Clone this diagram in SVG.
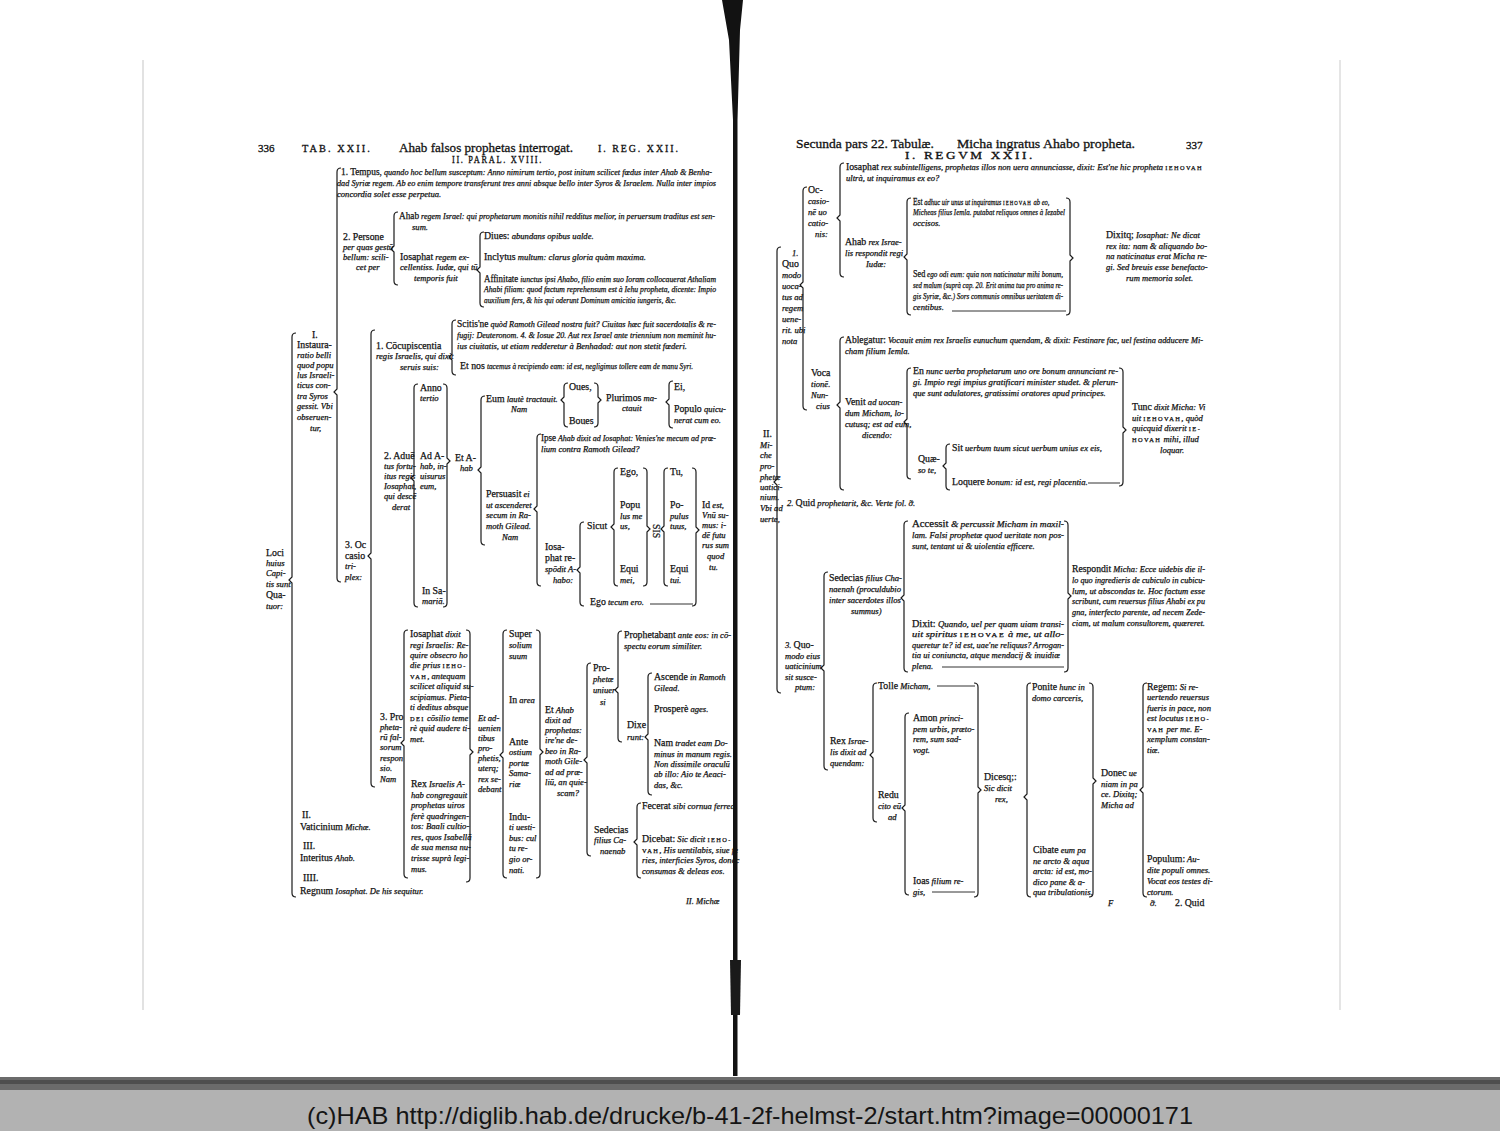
<svg xmlns="http://www.w3.org/2000/svg" width="1500" height="1131" viewBox="0 0 1500 1131">
<style>
text{font-family:"Liberation Serif","DejaVu Serif",serif;fill:#121212}
.t{font-style:italic;font-size:8.6px;stroke:#121212;stroke-width:0.25}
.r{font-style:normal;font-size:9.8px}
.sc{font-style:normal;font-size:6.4px;letter-spacing:1.4px}
.hn{font-size:11px;stroke:#121212;stroke-width:0.3}
.hc{font-size:10px;letter-spacing:2px;stroke:#121212;stroke-width:0.3}
.ht{font-size:13px;stroke:#121212;stroke-width:0.3}
.b{fill:none;stroke:#1c1c1c;stroke-width:1.2}
.d{fill:none;stroke:#1c1c1c;stroke-width:0.9}
.foot{font-family:"Liberation Sans",Arial,sans-serif;font-size:24px;fill:#151515}
</style>
<rect width="1500" height="1131" fill="#ffffff"/>
<g id="page">
<line x1="143" y1="60" x2="143" y2="1010" stroke="#d8d8d8" stroke-width="1.5"/>
<line x1="1340" y1="60" x2="1340" y2="1010" stroke="#dcdcdc" stroke-width="1.5"/>
<path d="M722,0 L743,0 L740,30 L737.5,120 L737.5,1076 L733,1076 L733,120 L729,40 Z" fill="#121212"/>
<path d="M730,960 L741,960 L740,1015 L731,1015 Z" fill="#1a1a1a"/>
<rect x="0" y="1077" width="1500" height="13" fill="#6b6b6b"/>
<rect x="0" y="1080" width="1500" height="4" fill="#3a3a3a" opacity="0.6"/>
<rect x="0" y="1090" width="1500" height="41" fill="#b2b2b2"/>
<text class="foot" x="750" y="1124" text-anchor="middle" textLength="886" lengthAdjust="spacingAndGlyphs">(c)HAB http://diglib.hab.de/drucke/b-41-2f-helmst-2/start.htm?image=00000171</text>
</g>

<g id="connectors">
<path class="b" d="M341,168 Q337,168 337,172 V389 L334,392 L337,395 V578 Q337,582 341,582"/>
<path class="b" d="M296,333 Q292,333 292,337 V577 L289,580 L292,583 V893 Q292,897 296,897"/>
<path class="b" d="M398,212 Q394,212 394,216 V246 L391,249 L394,252 V281 Q394,285 398,285"/>
<path class="b" d="M484,232 Q480,232 480,236 V267 L477,270 L480,273 V303 Q480,307 484,307"/>
<path class="b" d="M375,330 Q371,330 371,334 V553 L368,556 L371,559 V783 Q371,787 375,787"/>
<path class="b" d="M456,320 Q452,320 452,324 V354 L449,357 L452,360 V371 Q452,375 456,375"/>
<path class="b" d="M418,384 Q414,384 414,388 V475 L411,478 L414,481 V603 Q414,607 418,607"/>
<path class="b" d="M443,384 Q447,384 447,388 V458 L450,461 L447,464 V603 Q447,607 443,607"/>
<path class="b" d="M485,396 Q481,396 481,400 V467 L478,470 L481,473 V541 Q481,545 485,545"/>
<path class="b" d="M568,383 Q564,383 564,387 V397 L561,400 L564,403 V423 Q564,427 568,427"/>
<path class="b" d="M594,383 Q598,383 598,387 V397 L601,400 L598,403 V423 Q598,427 594,427"/>
<path class="b" d="M673,381 Q669,381 669,385 V399 L666,402 L669,405 V424 Q669,428 673,428"/>
<path class="b" d="M541,434 Q537,434 537,438 V506 L534,509 L537,512 V582 Q537,586 541,586"/>
<path class="b" d="M584,522 Q580,522 580,526 V567 L577,570 L580,573 V602 Q580,606 584,606"/>
<path class="b" d="M618,468 Q614,468 614,472 V524 L611,527 L614,530 V582 Q614,586 618,586"/>
<path class="b" d="M643,468 Q647,468 647,472 V526 L650,529 L647,532 V582 Q647,586 643,586"/>
<path class="b" d="M668,468 Q664,468 664,472 V526 L661,529 L664,532 V582 Q664,586 668,586"/>
<path class="b" d="M692,468 Q696,468 696,472 V527 L699,530 L696,533 V602 Q696,606 692,606"/>
<path class="d" d="M650,604 H693"/>
<path class="b" d="M408,630 Q404,630 404,634 V740 L401,743 L404,746 V874 Q404,878 408,878"/>
<path class="b" d="M466,630 Q470,630 470,634 V749 L473,752 L470,755 V878 Q470,882 466,882"/>
<path class="b" d="M507,630 Q503,630 503,634 V752 L500,755 L503,758 V874 Q503,878 507,878"/>
<path class="b" d="M536,630 Q540,630 540,634 V749 L543,752 L540,755 V874 Q540,878 536,878"/>
<path class="b" d="M591,663 Q587,663 587,667 V757 L584,760 L587,763 V852 Q587,856 591,856"/>
<path class="b" d="M622,631 Q618,631 618,635 V687 L615,690 L618,693 V738 Q618,742 622,742"/>
<path class="b" d="M652,673 Q648,673 648,677 V734 L645,737 L648,740 V791 Q648,795 652,795"/>
<path class="b" d="M641,803 Q637,803 637,807 V839 L634,842 L637,845 V874 Q637,878 641,878"/>

<path class="b" d="M781,247 Q777,247 777,251 V479 L774,482 L777,485 V689 Q777,693 781,693"/>
<path class="b" d="M807,187 Q803,187 803,191 V282 L800,285 L803,288 V406 Q803,410 807,410"/>
<path class="b" d="M844,163 Q840,163 840,167 V215 L837,218 L840,221 V273 Q840,277 844,277"/>
<path class="b" d="M911,198 Q907,198 907,202 V254 L904,257 L907,260 V311 Q907,315 911,315"/>
<path class="b" d="M1066,198 Q1070,198 1070,202 V255 L1073,258 L1070,261 V311 Q1070,315 1066,315"/>
<path class="d" d="M952,311 H1066"/>
<path class="b" d="M844,337 Q840,337 840,341 V402 L837,405 L840,408 V486 Q840,490 844,490"/>
<path class="b" d="M911,368 Q907,368 907,372 V419 L904,422 L907,425 V475 Q907,479 911,479"/>
<path class="b" d="M1119,368 Q1123,368 1123,372 V427 L1126,430 L1123,433 V482 Q1123,486 1119,486"/>
<path class="d" d="M1088,483 H1120"/>
<path class="b" d="M950,444 Q946,444 946,448 V463 L943,466 L946,469 V486 Q946,490 950,490"/>
<path class="b" d="M828,572 Q824,572 824,576 V665 L821,668 L824,671 V766 Q824,770 828,770"/>
<path class="b" d="M908,521 Q904,521 904,525 V595 L901,598 L904,601 V668 Q904,672 908,672"/>
<path class="b" d="M1064,521 Q1068,521 1068,525 V593 L1071,596 L1068,599 V668 Q1068,672 1064,672"/>
<path class="d" d="M942,667 H1064"/>
<path class="b" d="M877,683 Q873,683 873,687 V752 L870,755 L873,758 V818 Q873,822 877,822"/>
<path class="d" d="M937,686 H975"/>
<path class="b" d="M909,713 Q905,713 905,717 V805 L902,808 L905,811 V891 Q905,895 909,895"/>
<path class="d" d="M932,892 H975"/>
<path class="b" d="M974,683 Q978,683 978,687 V787 L981,790 L978,793 V893 Q978,897 974,897"/>
<path class="b" d="M1031,683 Q1027,683 1027,687 V794 L1024,797 L1027,800 V893 Q1027,897 1031,897"/>
<path class="b" d="M1089,683 Q1093,683 1093,687 V778 L1096,781 L1093,784 V893 Q1093,897 1089,897"/>
<path class="b" d="M1147,683 Q1143,683 1143,687 V787 L1140,790 L1143,793 V893 Q1143,897 1147,897"/>
</g>

<g id="hdrL">
<text class="hn" x="258" y="152">336</text>
<text class="hc" x="302" y="152" textLength="70" lengthAdjust="spacingAndGlyphs">TAB. XXII.</text>
<text class="ht" x="399" y="152" textLength="174" lengthAdjust="spacingAndGlyphs">Ahab falsos prophetas interrogat.</text>
<text class="hc" x="598" y="152" textLength="82" lengthAdjust="spacingAndGlyphs">I. REG. XXII.</text>
<text class="hc" x="452" y="163" font-size="9" textLength="91" lengthAdjust="spacingAndGlyphs">II. PARAL. XVIII.</text>
</g>

<g id="n-tempus">
<text class="t" x="341" y="175" textLength="371" lengthAdjust="spacingAndGlyphs"><tspan class="r">1. Tempus,</tspan> quando hoc bellum susceptum: Anno nimirum tertio, post initum scilicet fœdus inter Ahab &amp; Benha-</text>
<text class="t" x="337" y="186" textLength="379" lengthAdjust="spacingAndGlyphs">dad Syriæ regem. Ab eo enim tempore transferunt tres anni absque bello inter Syros &amp; Israelem.    Nulla inter impios</text>
<text class="t" x="337" y="197">concordia solet esse perpetua.</text>
</g>

<g id="n-persone">
<text class="t"><tspan class="r" x="343" y="240">2. Persone</tspan><tspan x="343" y="250">per quas gestū</tspan><tspan x="343" y="260">bellum: scili-</tspan><tspan x="356" y="270">cet per</tspan></text>
</g>
<g id="n-ahab1">
<text class="t" x="399" y="219" textLength="316" lengthAdjust="spacingAndGlyphs"><tspan class="r">Ahab</tspan> regem Israel: qui prophetarum monitis nihil redditus melior, in peruersum traditus est sen-</text>
<text class="t" x="412" y="230">sum.</text>
</g>
<g id="n-ios1">
<text class="t"><tspan x="400" y="260"><tspan class="r">Iosaphat</tspan> regem ex-</tspan><tspan x="400" y="270">cellentiss. Iudæ, qui tū</tspan><tspan x="414" y="281">temporis fuit</tspan></text>
</g>
<g id="n-diues"><text class="t" x="484" y="239"><tspan class="r">Diues:</tspan> abundans opibus ualde.</text></g>
<g id="n-inclytus"><text class="t" x="484" y="260"><tspan class="r">Inclytus</tspan> multum: clarus gloria quàm maxima.</text></g>
<g id="n-affin">
<text class="t" x="484" y="282" textLength="232" lengthAdjust="spacingAndGlyphs"><tspan class="r">Affinitate</tspan> iunctus ipsi Ahabo, filio enim suo Ioram collocauerat Athaliam</text>
<text class="t" x="484" y="292" textLength="232" lengthAdjust="spacingAndGlyphs">Ahabi filiam: quod factum reprehensum est à Iehu propheta, dicente: Impio</text>
<text class="t" x="484" y="303" textLength="192" lengthAdjust="spacingAndGlyphs">auxilium fers, &amp; his qui oderunt Dominum amicitia iungeris, &amp;c.</text>
</g>

<g id="n-I">
<text class="t"><tspan class="r" x="312" y="338">I.</tspan><tspan class="r" x="297" y="348">Instaura-</tspan><tspan x="297" y="358">ratio belli</tspan><tspan x="297" y="368">quod popu</tspan><tspan x="297" y="378">lus Israeli-</tspan><tspan x="297" y="388">ticus con-</tspan><tspan x="297" y="399">tra Syros</tspan><tspan x="297" y="409">gessit. Vbi</tspan><tspan x="297" y="420">obseruen-</tspan><tspan x="310" y="431">tur,</tspan></text>
</g>
<g id="n-loci">
<text class="t"><tspan class="r" x="266" y="556">Loci</tspan><tspan x="266" y="566">huius</tspan><tspan x="266" y="576">Capi-</tspan><tspan x="266" y="587">tis sunt</tspan><tspan class="r" x="266" y="598">Qua-</tspan><tspan x="266" y="609">tuor:</tspan></text>
</g>
<g id="n-occasio">
<text class="t"><tspan class="r" x="345" y="548">3. Oc</tspan><tspan class="r" x="345" y="559">casio</tspan><tspan x="345" y="569">tri-</tspan><tspan x="345" y="580">plex:</tspan></text>
</g>

<g id="n-concup">
<text class="t"><tspan x="376" y="349"><tspan class="r">1. Cōcupiscentia</tspan></tspan><tspan x="376" y="359">regis Israelis, qui dixit</tspan><tspan x="400" y="370">seruis suis:</tspan></text>
</g>
<g id="n-scitis">
<text class="t" x="457" y="327" textLength="259" lengthAdjust="spacingAndGlyphs"><tspan class="r">Scitis'ne</tspan> quòd Ramoth Gilead nostra fuit?   Ciuitas hæc fuit sacerdotalis &amp; re-</text>
<text class="t" x="457" y="338" textLength="259" lengthAdjust="spacingAndGlyphs">fugij: Deuteronom. 4. &amp; Iosue 20.   Aut rex Israel ante triennium non meminit hu-</text>
<text class="t" x="457" y="349">ius ciuitatis, ut etiam redderetur à Benhadad: aut non stetit fœderi.</text>
</g>
<g id="n-etnos">
<text class="t r" x="460" y="369">Et nos</text>
<text class="t" x="487" y="369" textLength="206" lengthAdjust="spacingAndGlyphs">tacemus à recipiendo eam: id est, negligimus tollere eam de manu Syri.</text>
</g>

<g id="n-aduentus">
<text class="t"><tspan class="r" x="384" y="459">2. Aduē</tspan><tspan x="384" y="469">tus fortu-</tspan><tspan x="384" y="479">itus regis</tspan><tspan x="384" y="489">Iosaphat,</tspan><tspan x="384" y="499">qui descē</tspan><tspan x="392" y="510">derat</tspan></text>
</g>
<g id="n-anno">
<text class="t"><tspan class="r" x="420" y="391">Anno</tspan><tspan x="420" y="401">tertio</tspan></text>
<text class="t"><tspan class="r" x="420" y="459">Ad A-</tspan><tspan x="420" y="469">hab, in-</tspan><tspan x="420" y="479">uisurus</tspan><tspan x="420" y="489">eum,</tspan></text>
<text class="t"><tspan class="r" x="422" y="594">In Sa-</tspan><tspan x="422" y="604">mariā.</tspan></text>
</g>
<g id="n-etahab"><text class="t"><tspan class="r" x="455" y="461">Et A-</tspan><tspan x="460" y="471">hab</tspan></text></g>
<g id="n-eum"><text class="t"><tspan x="486" y="402"><tspan class="r">Eum</tspan> lautè tractauit.</tspan><tspan x="511" y="412">Nam</tspan></text></g>
<g id="n-oues"><text class="t"><tspan class="r" x="569" y="390">Oues,</tspan><tspan class="r" x="569" y="424">Boues</tspan></text></g>
<g id="n-plurimos"><text class="t"><tspan x="606" y="401"><tspan class="r">Plurimos</tspan> ma-</tspan><tspan x="622" y="411">ctauit</tspan></text></g>
<g id="n-ei"><text class="t"><tspan class="r" x="674" y="390">Ei,</tspan><tspan x="674" y="412"><tspan class="r">Populo</tspan> quicu-</tspan><tspan x="674" y="423">nerat cum eo.</tspan></text></g>
<g id="n-persuasit"><text class="t"><tspan x="486" y="497"><tspan class="r">Persuasit</tspan> ei</tspan><tspan x="486" y="508">ut ascenderet</tspan><tspan x="486" y="518">secum in Ra-</tspan><tspan x="486" y="529">moth Gilead.</tspan><tspan x="502" y="540">Nam</tspan></text></g>
<g id="n-ipse">
<text class="t" x="541" y="441" textLength="175" lengthAdjust="spacingAndGlyphs"><tspan class="r">Ipse</tspan> Ahab dixit ad Iosaphat: Venies'ne mecum ad prœ-</text>
<text class="t" x="541" y="452">lium contra Ramoth Gilead?</text>
</g>
<g id="n-iosa"><text class="t"><tspan class="r" x="545" y="550">Iosa-</tspan><tspan class="r" x="545" y="561">phat re-</tspan><tspan x="545" y="572">spōdit A-</tspan><tspan x="553" y="583">habo:</tspan></text></g>
<g id="n-sicut"><text class="t"><tspan class="r" x="587" y="529">Sicut</tspan></text></g>
<g id="n-ego"><text class="t"><tspan class="r" x="620" y="475">Ego,</tspan><tspan class="r" x="620" y="508">Popu</tspan><tspan x="620" y="519">lus me</tspan><tspan x="620" y="529">us,</tspan><tspan class="r" x="620" y="572">Equi</tspan><tspan x="620" y="583">mei,</tspan></text></g>
<g id="n-sis"><text class="t r" font-size="8" transform="translate(653,524) rotate(90)">SIS</text></g>
<g id="n-tu"><text class="t"><tspan class="r" x="670" y="475">Tu,</tspan><tspan class="r" x="670" y="508">Po-</tspan><tspan x="670" y="519">pulus</tspan><tspan x="670" y="529">tuus,</tspan><tspan class="r" x="670" y="572">Equi</tspan><tspan x="670" y="583">tui.</tspan></text></g>
<g id="n-idest"><text class="t"><tspan x="702" y="508"><tspan class="r">Id</tspan> est,</tspan><tspan x="702" y="518">Vnū su-</tspan><tspan x="702" y="528">mus: i-</tspan><tspan x="702" y="538">dē futu</tspan><tspan x="702" y="548">rus sum</tspan><tspan x="707" y="559">quod</tspan><tspan x="709" y="570">tu.</tspan></text></g>
<g id="n-egotecum"><text class="t" x="590" y="605"><tspan class="r">Ego</tspan> tecum ero.</text></g>

<g id="n-propheta"><text class="t"><tspan class="r" x="380" y="720">3. Pro</tspan><tspan x="380" y="730">pheta-</tspan><tspan x="380" y="740">rū fal-</tspan><tspan x="380" y="750">sorum</tspan><tspan x="380" y="761">respon</tspan><tspan x="380" y="771">sio.</tspan><tspan x="380" y="782">Nam</tspan></text></g>
<g id="n-iosdixit"><text class="t"><tspan x="410" y="637"><tspan class="r">Iosaphat</tspan> dixit</tspan><tspan x="410" y="648">regi Israelis: Re-</tspan><tspan x="410" y="658">quire obsecro ho</tspan><tspan x="410" y="668">die prius <tspan class="sc">IEHO-</tspan></tspan><tspan x="410" y="679"><tspan class="sc">VAH</tspan>, antequam</tspan><tspan x="410" y="689">scilicet aliquid su-</tspan><tspan x="410" y="700">scipiamus. Pieta-</tspan><tspan x="410" y="710">ti deditus absque</tspan><tspan x="410" y="721"><tspan class="sc">DEI</tspan> cōsilio teme</tspan><tspan x="410" y="731">rè quid audere ti-</tspan><tspan x="410" y="742">met.</tspan></text></g>
<g id="n-rexisr"><text class="t"><tspan x="411" y="787"><tspan class="r">Rex</tspan> Israelis A-</tspan><tspan x="411" y="798">hab congregauit</tspan><tspan x="411" y="808">prophetas uiros</tspan><tspan x="411" y="819">ferè quadringen-</tspan><tspan x="411" y="829">tos: Baali cultio-</tspan><tspan x="411" y="840">res, quos Isabellā</tspan><tspan x="411" y="850">de sua mensa nu-</tspan><tspan x="411" y="861">trisse suprà legi-</tspan><tspan x="411" y="872">mus.</tspan></text></g>
<g id="n-etadu"><text class="t"><tspan x="478" y="721">Et ad-</tspan><tspan x="478" y="731">uenien</tspan><tspan x="478" y="741">tibus</tspan><tspan x="478" y="751">pro-</tspan><tspan x="478" y="761">phetis,</tspan><tspan x="478" y="771">uterq;</tspan><tspan x="478" y="782">rex se-</tspan><tspan x="478" y="792">debant</tspan></text></g>
<g id="n-super"><text class="t"><tspan class="r" x="509" y="637">Super</tspan><tspan x="509" y="648">solium</tspan><tspan x="509" y="659">suum</tspan><tspan x="509" y="703"><tspan class="r">In</tspan> area</tspan><tspan class="r" x="509" y="745">Ante</tspan><tspan x="509" y="755">ostium</tspan><tspan x="509" y="766">portæ</tspan><tspan x="509" y="776">Sama-</tspan><tspan x="509" y="787">riæ</tspan><tspan class="r" x="509" y="820">Indu-</tspan><tspan x="509" y="830">ti uesti-</tspan><tspan x="509" y="841">bus: cul</tspan><tspan x="509" y="851">tu re-</tspan><tspan x="509" y="862">gio or-</tspan><tspan x="509" y="873">nati.</tspan></text></g>
<g id="n-etahab2"><text class="t"><tspan x="545" y="713"><tspan class="r">Et</tspan> Ahab</tspan><tspan x="545" y="723">dixit ad</tspan><tspan x="545" y="733">prophetas:</tspan><tspan x="545" y="743">ire'ne de-</tspan><tspan x="545" y="754">beo in Ra-</tspan><tspan x="545" y="764">moth Gile-</tspan><tspan x="545" y="775">ad ad præ-</tspan><tspan x="545" y="785">liū, an quie-</tspan><tspan x="557" y="796">scam?</tspan></text></g>
<g id="n-prophuniv"><text class="t"><tspan class="r" x="593" y="671">Pro-</tspan><tspan x="593" y="682">phetæ</tspan><tspan x="593" y="693">uniuer</tspan><tspan x="600" y="705">si</tspan></text></g>
<g id="n-prophetabant"><text class="t"><tspan x="624" y="638"><tspan class="r">Prophetabant</tspan> ante eos: in cō-</tspan><tspan x="624" y="649">spectu eorum similiter.</tspan></text></g>
<g id="n-dixerunt"><text class="t"><tspan class="r" x="627" y="728">Dixe</tspan><tspan x="627" y="740">runt:</tspan></text></g>
<g id="n-ascende"><text class="t"><tspan x="654" y="680"><tspan class="r">Ascende</tspan> in Ramoth</tspan><tspan x="654" y="691">Gilead.</tspan></text></g>
<g id="n-prospere"><text class="t" x="654" y="712"><tspan class="r">Prosperè</tspan> ages.</text></g>
<g id="n-nam"><text class="t"><tspan x="654" y="746"><tspan class="r">Nam</tspan> tradet eam Do-</tspan><tspan x="654" y="757">minus in manum regis.</tspan><tspan x="654" y="767">Non dissimile oraculū</tspan><tspan x="654" y="777">ab illo: Aio te Aeaci-</tspan><tspan x="654" y="788">das, &amp;c.</tspan></text></g>
<g id="n-sedecias"><text class="t"><tspan class="r" x="594" y="833">Sedecias</tspan><tspan x="594" y="843">filius Ca-</tspan><tspan x="600" y="854">naenab</tspan></text></g>
<g id="n-fecerat"><text class="t" x="642" y="809"><tspan class="r">Fecerat</tspan> sibi cornua ferrea.</text></g>
<g id="n-dicebat"><text class="t"><tspan x="642" y="842"><tspan class="r">Dicebat:</tspan> Sic dicit <tspan class="sc">IEHO-</tspan></tspan><tspan x="642" y="853"><tspan class="sc">VAH</tspan>, His uentilabis, siue fe</tspan><tspan x="642" y="863">ries, interficies Syros, donec</tspan><tspan x="642" y="874">consumas &amp; deleas eos.</tspan></text></g>

<g id="n-II-IIII">
<text class="t"><tspan class="r" x="302" y="818">II.</tspan><tspan x="300" y="830"><tspan class="r">Vaticinium</tspan> Michæ.</tspan><tspan class="r" x="303" y="849">III.</tspan><tspan x="300" y="861"><tspan class="r">Interitus</tspan> Ahab.</tspan><tspan class="r" x="303" y="881">IIII.</tspan><tspan x="300" y="894"><tspan class="r">Regnum</tspan> Iosaphat. De his sequitur.</tspan></text>
</g>
<g id="n-catchL"><text class="t" x="686" y="904">II. Michæ</text></g>

<g id="hdrR">
<text class="ht" x="796" y="148" textLength="138" lengthAdjust="spacingAndGlyphs">Secunda pars 22. Tabulæ.</text>
<text class="ht" x="957" y="148" textLength="178" lengthAdjust="spacingAndGlyphs">Micha ingratus Ahabo propheta.</text>
<text class="hn" x="1186" y="149">337</text>
<text class="hc" x="905" y="159" font-size="9" textLength="130" lengthAdjust="spacingAndGlyphs">I. REGVM XXII.</text>
</g>

<g id="n-iosR">
<text class="t" x="846" y="170" textLength="357" lengthAdjust="spacingAndGlyphs"><tspan class="r">Iosaphat</tspan> rex subintelligens, prophetas illos non uera annunciasse, dixit: Est'ne hic propheta <tspan class="sc">IEHOVAH</tspan></text>
<text class="t" x="846" y="181">ultrà, ut inquiramus ex eo?</text>
</g>
<g id="n-occR"><text class="t"><tspan class="r" x="808" y="193">Oc-</tspan><tspan x="808" y="204">casio-</tspan><tspan x="808" y="215">nē uo</tspan><tspan x="808" y="226">catio-</tspan><tspan x="815" y="237">nis:</tspan></text></g>
<g id="n-ahabR"><text class="t"><tspan x="845" y="245"><tspan class="r">Ahab</tspan> rex Israe-</tspan><tspan x="845" y="256">lis respondit regi</tspan><tspan x="866" y="267">Iudæ:</tspan></text></g>
<g id="n-est">
<text class="t" transform="translate(913,205) scale(0.76,1)" x="0" y="0"><tspan class="r">Est</tspan> adhuc uir unus ut inquiramus <tspan class="sc">IEHOVAH</tspan> ab eo,</text>
<text class="t" x="913" y="215" textLength="152" lengthAdjust="spacingAndGlyphs">Micheas filius Iemla. putabat reliquos omnes à Iezabel</text>
<text class="t" x="913" y="226">occisos.</text>
</g>
<g id="n-sed">
<text class="t" x="913" y="277" textLength="150" lengthAdjust="spacingAndGlyphs"><tspan class="r">Sed</tspan> ego odi eum: quia non naticinatur mihi bonum,</text>
<text class="t" x="913" y="288" textLength="150" lengthAdjust="spacingAndGlyphs">sed malum (suprà cap. 20. Erit anima tua pro anima re-</text>
<text class="t" x="913" y="299" textLength="150" lengthAdjust="spacingAndGlyphs">gis Syriæ, &amp;c.) Sors communis omnibus ueritatem di-</text>
<text class="t" x="913" y="310">centibus.</text>
</g>
<g id="n-dixitq"><text class="t"><tspan x="1106" y="238"><tspan class="r">Dixitq;</tspan> Iosaphat: Ne dicat</tspan><tspan x="1106" y="249">rex ita: nam &amp; aliquando bo-</tspan><tspan x="1106" y="259">na naticinatus erat Micha re-</tspan><tspan x="1106" y="270">gi. Sed breuis esse benefacto-</tspan><tspan x="1126" y="281">rum memoria solet.</tspan></text></g>
<g id="n-quomodo"><text class="t"><tspan x="792" y="256">1.</tspan><tspan class="r" x="782" y="267">Quo</tspan><tspan x="782" y="278">modo</tspan><tspan x="782" y="289">uoca-</tspan><tspan x="782" y="300">tus ad</tspan><tspan x="782" y="311">regem</tspan><tspan x="782" y="322">uene-</tspan><tspan x="782" y="333">rit. ubi</tspan><tspan x="782" y="344">nota</tspan></text></g>
<g id="n-ableg">
<text class="t" x="845" y="343" textLength="358" lengthAdjust="spacingAndGlyphs"><tspan class="r">Ablegatur:</tspan> Vocauit enim rex Israelis eunuchum quendam, &amp; dixit: Festinare fac, uel festina adducere Mi-</text>
<text class="t" x="845" y="354">cham filium Iemla.</text>
</g>
<g id="n-vocat"><text class="t"><tspan class="r" x="811" y="376">Voca</tspan><tspan x="811" y="387">tionē.</tspan><tspan x="811" y="398">Nun-</tspan><tspan x="816" y="409">cius</tspan></text></g>
<g id="n-venit"><text class="t"><tspan x="845" y="405"><tspan class="r">Venit</tspan> ad uocan-</tspan><tspan x="845" y="416">dum Micham, lo-</tspan><tspan x="845" y="427">cutusq; est ad eum,</tspan><tspan x="862" y="438">dicendo:</tspan></text></g>
<g id="n-en">
<text class="t" x="913" y="374" textLength="205" lengthAdjust="spacingAndGlyphs"><tspan class="r">En</tspan> nunc uerba prophetarum uno ore bonum annunciant re-</text>
<text class="t" x="913" y="385" textLength="205" lengthAdjust="spacingAndGlyphs">gi.  Impio regi impius gratificari minister studet. &amp; plerun-</text>
<text class="t" x="913" y="396">que sunt adulatores, gratissimi oratores apud principes.</text>
</g>
<g id="n-tunc"><text class="t"><tspan x="1132" y="410"><tspan class="r">Tunc</tspan> dixit Micha: Vi</tspan><tspan x="1132" y="421">uit <tspan class="sc">IEHOVAH</tspan>, quòd</tspan><tspan x="1132" y="431">quicquid dixerit <tspan class="sc">IE-</tspan></tspan><tspan x="1132" y="442"><tspan class="sc">HOVAH</tspan> mihi, illud</tspan><tspan x="1160" y="453">loquar.</tspan></text></g>
<g id="n-quaeso"><text class="t"><tspan class="r" x="918" y="462">Quæ-</tspan><tspan x="918" y="473">so te,</tspan></text></g>
<g id="n-sit"><text class="t" x="952" y="451"><tspan class="r">Sit</tspan> uerbum tuum sicut uerbum unius ex eis,</text></g>
<g id="n-loquere"><text class="t" x="952" y="485"><tspan class="r">Loquere</tspan> bonum: id est, regi placentia.</text></g>
<g id="n-IIR"><text class="t"><tspan class="r" x="763" y="437">II.</tspan><tspan x="760" y="448">Mi-</tspan><tspan x="760" y="458">che</tspan><tspan x="760" y="469">pro-</tspan><tspan x="760" y="480">phetæ</tspan><tspan x="760" y="490">uatici-</tspan><tspan x="760" y="500">nium.</tspan><tspan x="760" y="511">Vbi ad</tspan><tspan x="760" y="522">uerte,</tspan></text></g>
<g id="n-quid"><text class="t" x="787" y="506">2.   <tspan class="r">Quid</tspan> prophetarit, &amp;c. Verte fol. ỡ.</text></g>
<g id="n-quo3"><text class="t"><tspan x="785" y="648">3. <tspan class="r">Quo-</tspan></tspan><tspan x="785" y="659">modo eius</tspan><tspan x="785" y="669">uaticinium</tspan><tspan x="785" y="680">sit susce-</tspan><tspan x="795" y="690">ptum:</tspan></text></g>
<g id="n-sedecR"><text class="t"><tspan x="829" y="581"><tspan class="r">Sedecias</tspan> filius Cha-</tspan><tspan x="829" y="592">naenah (proculdubio</tspan><tspan x="829" y="603">inter sacerdotes illos</tspan><tspan x="851" y="614">summus)</tspan></text></g>
<g id="n-accessit">
<text class="t" x="912" y="527" textLength="152" lengthAdjust="spacingAndGlyphs"><tspan class="r">Accessit</tspan> &amp; percussit Micham in maxil-</text>
<text class="t" x="912" y="538" textLength="152" lengthAdjust="spacingAndGlyphs">lam.  Falsi prophetæ quod ueritate non pos-</text>
<text class="t" x="912" y="549">sunt, tentant ui &amp; uiolentia efficere.</text>
</g>
<g id="n-dixitR">
<text class="t" x="912" y="627" textLength="152" lengthAdjust="spacingAndGlyphs"><tspan class="r">Dixit:</tspan> Quando, uel per quam uiam transi-</text>
<text class="t" x="912" y="637" textLength="152" lengthAdjust="spacingAndGlyphs">uit spiritus <tspan class="sc">IEHOVAE</tspan> à me, ut allo-</text>
<text class="t" x="912" y="648" textLength="152" lengthAdjust="spacingAndGlyphs">queretur te? id est, uae'ne reliquus? Arrogan-</text>
<text class="t" x="912" y="658" textLength="148" lengthAdjust="spacingAndGlyphs">tia ui coniuncta, atque mendacij &amp; inuidiæ</text>
<text class="t" x="912" y="669">plena.</text>
</g>
<g id="n-respondit">
<text class="t" x="1072" y="572" textLength="133" lengthAdjust="spacingAndGlyphs"><tspan class="r">Respondit</tspan> Micha: Ecce uidebis die il-</text>
<text class="t" x="1072" y="583" textLength="133" lengthAdjust="spacingAndGlyphs">lo quo ingredieris de cubiculo in cubicu-</text>
<text class="t" x="1072" y="594" textLength="133" lengthAdjust="spacingAndGlyphs">lum, ut abscondas te.    Hoc factum esse</text>
<text class="t" x="1072" y="604" textLength="133" lengthAdjust="spacingAndGlyphs">scribunt, cum reuersus filius Ahabi ex pu</text>
<text class="t" x="1072" y="615" textLength="133" lengthAdjust="spacingAndGlyphs">gna, interfecto parente, ad necem Zede-</text>
<text class="t" x="1072" y="626" textLength="133" lengthAdjust="spacingAndGlyphs">ciam, ut malum consultorem, quæreret.</text>
</g>
<g id="n-rexR"><text class="t"><tspan x="830" y="744"><tspan class="r">Rex</tspan> Israe-</tspan><tspan x="830" y="755">lis dixit ad</tspan><tspan x="830" y="766">quendam:</tspan></text></g>
<g id="n-tolle"><text class="t" x="878" y="689"><tspan class="r">Tolle</tspan> Micham,</text></g>
<g id="n-redu"><text class="t"><tspan class="r" x="878" y="798">Redu</tspan><tspan x="878" y="809">cito eū</tspan><tspan x="888" y="820">ad</tspan></text></g>
<g id="n-amon"><text class="t"><tspan x="913" y="721"><tspan class="r">Amon</tspan> princi-</tspan><tspan x="913" y="732">pem urbis, præto-</tspan><tspan x="913" y="742">rem, sum sad-</tspan><tspan x="913" y="753">vogt.</tspan></text></g>
<g id="n-ioas"><text class="t"><tspan x="913" y="884"><tspan class="r">Ioas</tspan> filium re-</tspan><tspan x="913" y="895">gis,</tspan></text></g>
<g id="n-dices"><text class="t"><tspan class="r" x="984" y="780">Dicesq;:</tspan><tspan x="984" y="791">Sic dicit</tspan><tspan x="995" y="802">rex,</tspan></text></g>
<g id="n-ponite"><text class="t"><tspan x="1032" y="690"><tspan class="r">Ponite</tspan> hunc in</tspan><tspan x="1032" y="701">domo carceris,</tspan></text></g>
<g id="n-cibate"><text class="t"><tspan x="1033" y="853"><tspan class="r">Cibate</tspan> eum pa</tspan><tspan x="1033" y="864">ne arcto &amp; aqua</tspan><tspan x="1033" y="874">arcta: id est, mo-</tspan><tspan x="1033" y="885">dico pane &amp; a-</tspan><tspan x="1033" y="895">qua tribulationis.</tspan></text></g>
<g id="n-donec"><text class="t"><tspan x="1101" y="776"><tspan class="r">Donec</tspan> ue</tspan><tspan x="1101" y="787">niam in pa</tspan><tspan x="1101" y="797">ce. Dixitq;</tspan><tspan x="1101" y="808">Micha ad</tspan></text></g>
<g id="n-regem"><text class="t"><tspan x="1147" y="690"><tspan class="r">Regem:</tspan> Si re-</tspan><tspan x="1147" y="700">uertendo reuersus</tspan><tspan x="1147" y="711">fueris in pace, non</tspan><tspan x="1147" y="721">est locutus <tspan class="sc">IEHO-</tspan></tspan><tspan x="1147" y="732"><tspan class="sc">VAH</tspan> per me. E-</tspan><tspan x="1147" y="742">xemplum constan-</tspan><tspan x="1147" y="753">tiæ.</tspan></text></g>
<g id="n-populum"><text class="t"><tspan x="1147" y="862"><tspan class="r">Populum:</tspan> Au-</tspan><tspan x="1147" y="873">dite populi omnes.</tspan><tspan x="1147" y="884">Vocat eos testes di-</tspan><tspan x="1147" y="895">ctorum.</tspan></text></g>
<g id="n-catchR">
<text class="t" x="1108" y="906" font-size="7">F</text>
<text class="t" x="1150" y="906">ỡ.</text>
<text class="t r" x="1175" y="906">2. Quid</text>
</g>
</svg>
